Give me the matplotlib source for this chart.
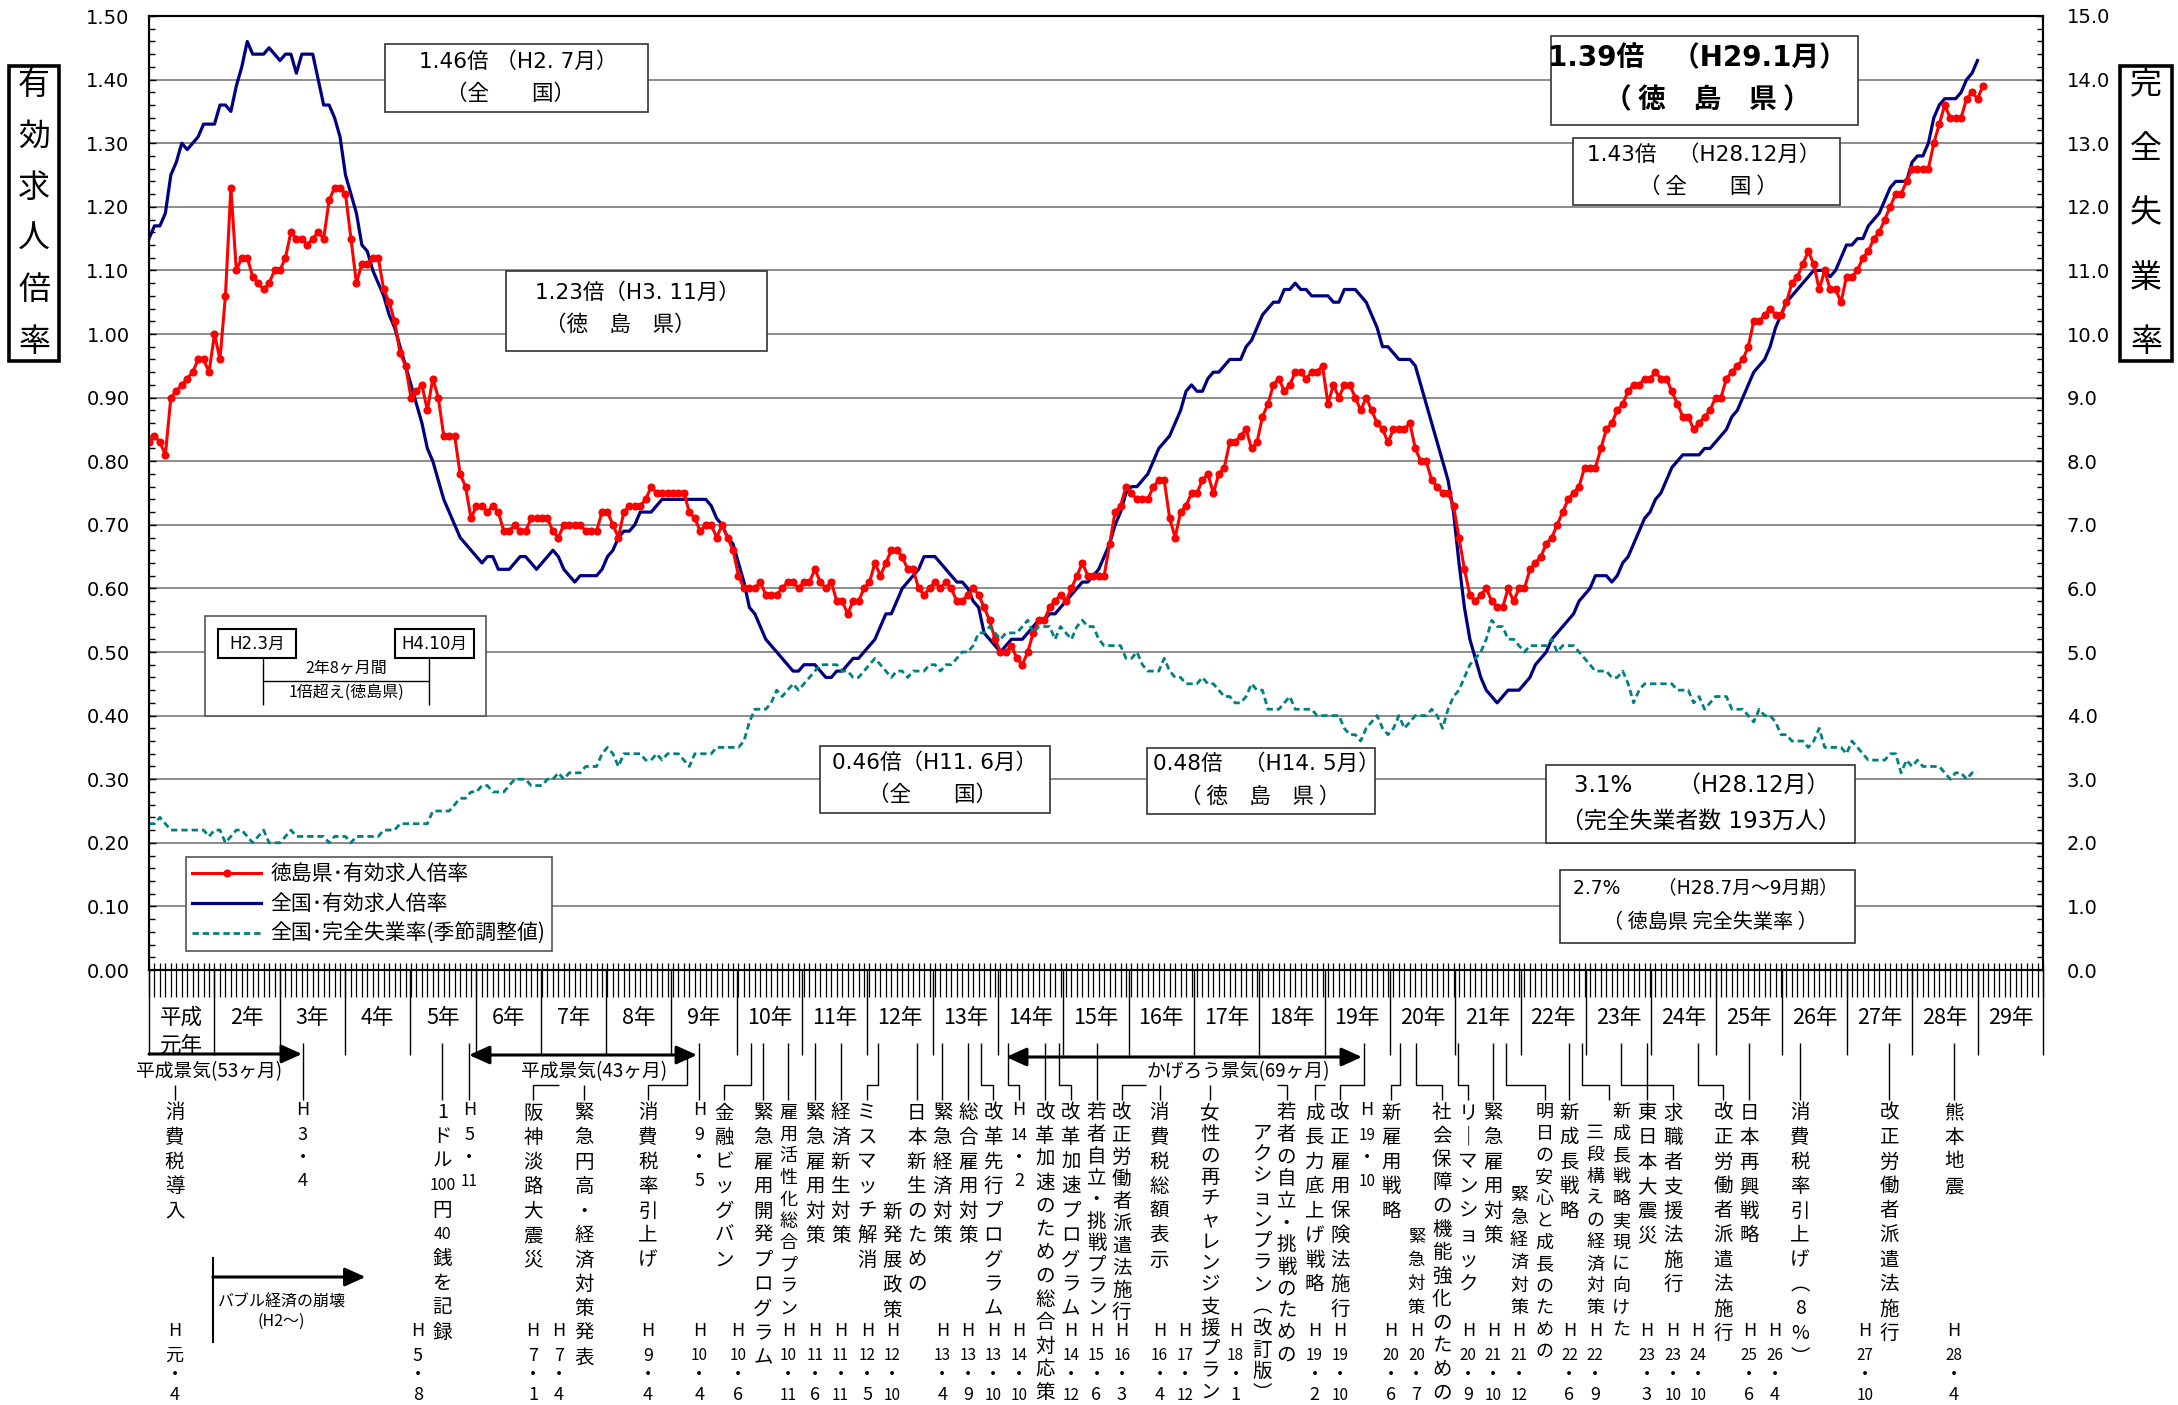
import numpy as np
import matplotlib
matplotlib.use("Agg")
import matplotlib.pyplot as plt
import matplotlib.transforms as mtransforms
from matplotlib.lines import Line2D
from matplotlib.patches import Rectangle, FancyArrowPatch
from matplotlib.collections import LineCollection
from matplotlib.ticker import MultipleLocator, FormatStrFormatter

plt.rcParams['font.family'] = ['Noto Sans CJK JP', 'DejaVu Sans']
LATIN_FIRST = ['DejaVu Sans', 'Noto Sans CJK JP']

# ---------------- data (monthly, H1.1 = index 0) ----------------
tokushima = [
    0.83, 0.84, 0.83, 0.81, 0.90, 0.91, 0.92, 0.93, 0.94, 0.96, 0.96, 0.94,
    1.00, 0.96, 1.06, 1.23, 1.10, 1.12, 1.12, 1.09, 1.08, 1.07, 1.08, 1.10,
    1.10, 1.12, 1.16, 1.15, 1.15, 1.14, 1.15, 1.16, 1.15, 1.21, 1.23, 1.23,
    1.22, 1.15, 1.08, 1.11, 1.11, 1.12, 1.12, 1.07, 1.05, 1.02, 0.97, 0.95,
    0.90, 0.91, 0.92, 0.88, 0.93, 0.90, 0.84, 0.84, 0.84, 0.78, 0.76, 0.71,
    0.73, 0.73, 0.72, 0.73, 0.72, 0.69, 0.69, 0.70, 0.69, 0.69, 0.71, 0.71,
    0.71, 0.71, 0.69, 0.68, 0.70, 0.70, 0.70, 0.70, 0.69, 0.69, 0.69, 0.72,
    0.72, 0.70, 0.68, 0.72, 0.73, 0.73, 0.73, 0.74, 0.76, 0.75, 0.75, 0.75,
    0.75, 0.75, 0.75, 0.72, 0.71, 0.69, 0.70, 0.70, 0.68, 0.70, 0.68, 0.66,
    0.62, 0.60, 0.60, 0.60, 0.61, 0.59, 0.59, 0.59, 0.60, 0.61, 0.61, 0.60,
    0.61, 0.61, 0.63, 0.61, 0.60, 0.61, 0.58, 0.58, 0.56, 0.58, 0.58, 0.60,
    0.61, 0.64, 0.62, 0.64, 0.66, 0.66, 0.65, 0.63, 0.63, 0.60, 0.59, 0.60,
    0.61, 0.60, 0.61, 0.60, 0.58, 0.58, 0.59, 0.60, 0.59, 0.57, 0.55, 0.52,
    0.50, 0.50, 0.51, 0.49, 0.48, 0.50, 0.53, 0.55, 0.55, 0.57, 0.58, 0.59,
    0.58, 0.60, 0.62, 0.64, 0.62, 0.62, 0.62, 0.62, 0.67, 0.72, 0.73, 0.76,
    0.75, 0.74, 0.74, 0.74, 0.76, 0.77, 0.77, 0.71, 0.68, 0.72, 0.73, 0.75,
    0.75, 0.77, 0.78, 0.75, 0.78, 0.79, 0.83, 0.83, 0.84, 0.85, 0.82, 0.83,
    0.87, 0.89, 0.92, 0.93, 0.91, 0.92, 0.94, 0.94, 0.93, 0.94, 0.94, 0.95,
    0.89, 0.92, 0.90, 0.92, 0.92, 0.90, 0.88, 0.90, 0.88, 0.86, 0.85, 0.83,
    0.85, 0.85, 0.85, 0.86, 0.82, 0.80, 0.80, 0.77, 0.76, 0.75, 0.75, 0.73,
    0.68, 0.63, 0.59, 0.58, 0.59, 0.60, 0.58, 0.57, 0.57, 0.60, 0.58, 0.60,
    0.60, 0.63, 0.64, 0.65, 0.67, 0.68, 0.70, 0.72, 0.74, 0.75, 0.76, 0.79,
    0.79, 0.79, 0.82, 0.85, 0.86, 0.88, 0.89, 0.91, 0.92, 0.92, 0.93, 0.93,
    0.94, 0.93, 0.93, 0.91, 0.89, 0.87, 0.87, 0.85, 0.86, 0.87, 0.88, 0.90,
    0.90, 0.93, 0.94, 0.95, 0.96, 0.98, 1.02, 1.02, 1.03, 1.04, 1.03, 1.03,
    1.05, 1.08, 1.09, 1.11, 1.13, 1.11, 1.07, 1.10, 1.07, 1.07, 1.05, 1.09,
    1.09, 1.10, 1.12, 1.13, 1.15, 1.16, 1.18, 1.20, 1.22, 1.22, 1.24, 1.26,
    1.26, 1.26, 1.26, 1.30, 1.33, 1.36, 1.34, 1.34, 1.34, 1.37, 1.38, 1.37,
    1.39,
]

national = [
    1.15, 1.17, 1.17, 1.19, 1.25, 1.27, 1.30, 1.29, 1.30, 1.31, 1.33, 1.33,
    1.33, 1.36, 1.36, 1.35, 1.39, 1.42, 1.46, 1.44, 1.44, 1.44, 1.45, 1.44,
    1.43, 1.44, 1.44, 1.41, 1.44, 1.44, 1.44, 1.40, 1.36, 1.36, 1.34, 1.31,
    1.25, 1.22, 1.19, 1.14, 1.13, 1.10, 1.08, 1.06, 1.03, 1.01, 0.98, 0.95,
    0.92, 0.89, 0.86, 0.82, 0.80, 0.77, 0.74, 0.72, 0.70, 0.68, 0.67, 0.66,
    0.65, 0.64, 0.65, 0.65, 0.63, 0.63, 0.63, 0.64, 0.65, 0.65, 0.64, 0.63,
    0.64, 0.65, 0.66, 0.65, 0.63, 0.62, 0.61, 0.62, 0.62, 0.62, 0.62, 0.63,
    0.65, 0.66, 0.68, 0.69, 0.69, 0.70, 0.72, 0.72, 0.72, 0.73, 0.74, 0.74,
    0.74, 0.74, 0.74, 0.74, 0.74, 0.74, 0.74, 0.73, 0.71, 0.70, 0.68, 0.67,
    0.64, 0.61, 0.57, 0.56, 0.54, 0.52, 0.51, 0.50, 0.49, 0.48, 0.47, 0.47,
    0.48, 0.48, 0.48, 0.47, 0.46, 0.46, 0.47, 0.47, 0.48, 0.49, 0.49, 0.50,
    0.51, 0.52, 0.54, 0.56, 0.56, 0.58, 0.60, 0.61, 0.62, 0.63, 0.65, 0.65,
    0.65, 0.64, 0.63, 0.62, 0.61, 0.61, 0.60, 0.58, 0.57, 0.53, 0.52, 0.51,
    0.50, 0.51, 0.52, 0.52, 0.52, 0.53, 0.54, 0.55, 0.55, 0.56, 0.56, 0.57,
    0.58, 0.59, 0.60, 0.61, 0.61, 0.62, 0.63, 0.65, 0.67, 0.70, 0.72, 0.75,
    0.76, 0.76, 0.77, 0.78, 0.80, 0.82, 0.83, 0.84, 0.86, 0.88, 0.91, 0.92,
    0.91, 0.91, 0.93, 0.94, 0.94, 0.95, 0.96, 0.96, 0.96, 0.98, 0.99, 1.01,
    1.03, 1.04, 1.05, 1.05, 1.07, 1.07, 1.08, 1.07, 1.07, 1.06, 1.06, 1.06,
    1.06, 1.05, 1.05, 1.07, 1.07, 1.07, 1.06, 1.05, 1.03, 1.01, 0.98, 0.98,
    0.97, 0.96, 0.96, 0.96, 0.95, 0.92, 0.89, 0.86, 0.83, 0.80, 0.77, 0.72,
    0.64, 0.57, 0.52, 0.49, 0.46, 0.44, 0.43, 0.42, 0.43, 0.44, 0.44, 0.44,
    0.45, 0.46, 0.48, 0.49, 0.50, 0.52, 0.53, 0.54, 0.55, 0.56, 0.58, 0.59,
    0.60, 0.62, 0.62, 0.62, 0.61, 0.62, 0.64, 0.65, 0.67, 0.69, 0.71, 0.72,
    0.74, 0.75, 0.77, 0.79, 0.80, 0.81, 0.81, 0.81, 0.81, 0.82, 0.82, 0.83,
    0.84, 0.85, 0.87, 0.88, 0.90, 0.92, 0.94, 0.95, 0.96, 0.98, 1.01, 1.03,
    1.05, 1.06, 1.07, 1.08, 1.09, 1.10, 1.10, 1.10, 1.09, 1.10, 1.12, 1.14,
    1.14, 1.15, 1.15, 1.17, 1.18, 1.19, 1.21, 1.23, 1.24, 1.24, 1.24, 1.27,
    1.28, 1.28, 1.30, 1.34, 1.36, 1.37, 1.37, 1.37, 1.38, 1.40, 1.41, 1.43,
]

unemployment = [
    2.3, 2.3, 2.4, 2.3, 2.2, 2.2, 2.2, 2.2, 2.2, 2.2, 2.2, 2.1,
    2.2, 2.2, 2.0, 2.1, 2.2, 2.2, 2.1, 2.0, 2.1, 2.2, 2.0, 2.0,
    2.0, 2.1, 2.2, 2.1, 2.1, 2.1, 2.1, 2.1, 2.1, 2.0, 2.1, 2.1,
    2.1, 2.0, 2.1, 2.1, 2.1, 2.1, 2.1, 2.2, 2.2, 2.2, 2.3, 2.3,
    2.3, 2.3, 2.3, 2.3, 2.5, 2.5, 2.5, 2.5, 2.6, 2.7, 2.7, 2.8,
    2.8, 2.9, 2.9, 2.8, 2.8, 2.8, 2.9, 3.0, 3.0, 3.0, 2.9, 2.9,
    2.9, 3.0, 3.0, 3.1, 3.0, 3.1, 3.1, 3.1, 3.2, 3.2, 3.2, 3.4,
    3.5, 3.4, 3.2, 3.4, 3.4, 3.4, 3.4, 3.3, 3.3, 3.4, 3.3, 3.4,
    3.4, 3.4, 3.3, 3.2, 3.4, 3.4, 3.4, 3.4, 3.5, 3.5, 3.5, 3.5,
    3.5, 3.6, 3.9, 4.1, 4.1, 4.1, 4.2, 4.4, 4.3, 4.4, 4.5, 4.4,
    4.5, 4.6, 4.7, 4.8, 4.8, 4.8, 4.8, 4.7, 4.7, 4.6, 4.6, 4.7,
    4.8, 4.9, 4.8, 4.7, 4.6, 4.7, 4.7, 4.6, 4.7, 4.7, 4.7, 4.8,
    4.8, 4.7, 4.8, 4.8, 4.9, 5.0, 5.0, 5.1, 5.3, 5.3, 5.4, 5.3,
    5.2, 5.3, 5.3, 5.3, 5.4, 5.5, 5.3, 5.4, 5.4, 5.4, 5.2, 5.4,
    5.3, 5.2, 5.4, 5.5, 5.4, 5.4, 5.2, 5.1, 5.1, 5.1, 5.1, 4.9,
    4.9, 5.0, 4.8, 4.7, 4.7, 4.7, 4.9, 4.7, 4.6, 4.6, 4.5, 4.5,
    4.5, 4.6, 4.5, 4.5, 4.4, 4.3, 4.3, 4.2, 4.2, 4.3, 4.5, 4.4,
    4.4, 4.1, 4.1, 4.1, 4.2, 4.3, 4.1, 4.1, 4.1, 4.1, 4.0, 4.0,
    4.0, 4.0, 4.0, 3.8, 3.7, 3.7, 3.6, 3.8, 3.9, 4.0, 3.8, 3.7,
    3.8, 4.0, 3.8, 3.9, 4.0, 4.0, 4.0, 4.1, 4.0, 3.8, 4.1, 4.3,
    4.4, 4.6, 4.8, 4.9, 5.0, 5.2, 5.5, 5.4, 5.4, 5.2, 5.2, 5.1,
    5.0, 5.1, 5.1, 5.1, 5.1, 5.2, 5.0, 5.1, 5.1, 5.1, 5.0, 4.9,
    4.8, 4.7, 4.7, 4.7, 4.6, 4.6, 4.7, 4.5, 4.2, 4.4, 4.5, 4.5,
    4.5, 4.5, 4.5, 4.5, 4.4, 4.4, 4.4, 4.2, 4.3, 4.1, 4.2, 4.3,
    4.3, 4.3, 4.1, 4.1, 4.1, 4.0, 3.9, 4.1, 4.0, 4.0, 3.9, 3.7,
    3.7, 3.6, 3.6, 3.6, 3.5, 3.6, 3.8, 3.5, 3.5, 3.5, 3.5, 3.4,
    3.6, 3.5, 3.4, 3.3, 3.3, 3.3, 3.3, 3.4, 3.4, 3.1, 3.3, 3.2,
    3.3, 3.2, 3.2, 3.2, 3.2, 3.1, 3.0, 3.1, 3.1, 3.0, 3.1, 3.1,
]

n_categories = 348           # H1.1 .. H29.12
n_years = 29
legend_labels = ['徳島県･有効求人倍率', '全国･有効求人倍率', '全国･完全失業率(季節調整値)']

# ---------------- figure ----------------
W, H = 2178, 1405
fig = plt.figure(figsize=(W / 100, H / 100), dpi=100)
fig.patch.set_facecolor('white')
T = mtransforms.Affine2D().scale(1.0 / W, -1.0 / H).translate(0, 1) + fig.transFigure

AX_L, AX_R, AX_T, AX_B = 149, 2043, 16, 970
ax = fig.add_axes([AX_L / W, 1 - AX_B / H, (AX_R - AX_L) / W, (AX_B - AX_T) / H])
ax.set_xlim(0, n_categories - 1)
ax.set_ylim(0, 1.5)
ax.set_yticks(np.arange(0, 1.501, 0.1))
ax.yaxis.set_major_formatter(FormatStrFormatter('%.2f'))
ax.yaxis.set_minor_locator(MultipleLocator(0.02))
ax.tick_params(axis='y', which='major', direction='in', length=5, width=1, labelsize=14, pad=14)
ax.tick_params(axis='y', which='minor', direction='in', length=4, width=1)
ax.set_xticks([])
ax.yaxis.grid(True, color='#8c8c8c', lw=1.4)
ax.set_axisbelow(True)
for s in ax.spines.values():
    s.set_linewidth(1.5)
    s.set_color('black')

l_blue, = ax.plot(np.arange(len(national)), national, color='#000080', lw=2.3, zorder=3)
l_red, = ax.plot(np.arange(len(tokushima)), tokushima, color='#ff0000', lw=2.2,
                 marker='o', ms=4.8, mec='#ff0000', mfc='#ff0000', zorder=4)

ax2 = ax.twinx()
ax2.set_ylim(0, 15)
ax2.set_yticks(np.arange(0, 15.01, 1))
ax2.yaxis.set_major_formatter(FormatStrFormatter('%.1f'))
ax2.yaxis.set_minor_locator(MultipleLocator(0.2))
ax2.tick_params(axis='y', which='major', direction='in', length=5, width=1, labelsize=14, pad=17)
ax2.tick_params(axis='y', which='minor', direction='in', length=4, width=1)
for s in ax2.spines.values():
    s.set_linewidth(1.5)
l_teal, = ax2.plot(np.arange(len(unemployment)), unemployment, color='#008080', lw=2.0,
                   ls=(0, (2.3, 1.4)))

for lab in ax.get_yticklabels() + ax2.get_yticklabels():
    lab.set_fontfamily(LATIN_FIRST)

# ---------------- helpers ----------------
def box(x0, y0, x1, y1, lw=1.2, ec='#333333'):
    fig.add_artist(Rectangle((x0, y0), x1 - x0, y1 - y0, transform=T, fc='white', ec=ec, lw=lw))

def txt(x, y, s, size=13.5, ha='center', weight='normal', family=None):
    kw = {}
    if family is not None:
        kw['family'] = family
    fig.text(x, y, s, transform=T, ha=ha, va='center', fontsize=size, fontweight=weight, **kw)

def ltxt(x, y, s, size=15.5, weight='normal'):
    txt(x, y, s, size=size, weight=weight, family=LATIN_FIRST)

def poly(pts, lw=1.0):
    xs, ys = zip(*pts)
    fig.add_artist(Line2D(xs, ys, transform=T, color='black', lw=lw, solid_capstyle='butt'))

def vtext(x, y0, cells, pitch=24.5, size=14):
    if isinstance(cells, str):
        cells = list(cells)
    for k, c in enumerate(cells):
        fs = size if len(c) == 1 else size * 0.82
        fig.text(x, y0 + k * pitch, c, transform=T, ha='center', va='center', fontsize=fs)

def hdate(x, yr, mo, upper=False):
    ys = (1110, 1135, 1158, 1181) if upper else (1331, 1356, 1375, 1395)
    for y, c in zip(ys, ['H', yr, '・', mo]):
        fs = 13 if len(c) == 1 else 11
        fig.text(x, y, c, transform=T, ha='center', va='center', fontsize=fs)

def arrow(x0, x1, y, style):
    fig.add_artist(FancyArrowPatch((x0, y), (x1, y), transform=T,
                                   arrowstyle=style + ',head_length=0.62,head_width=0.28',
                                   mutation_scale=20, lw=2.2, color='black',
                                   shrinkA=0, shrinkB=0))

YT, YB, YE = 1043, 1085, 1100
def drop(x):
    poly([(x, YT), (x, YE)])
def bend(x1, x2):
    poly([(x1, YT), (x1, YB), (x2, YB), (x2, YE)])

# ---------------- axis title boxes ----------------
fig.add_artist(Rectangle((9, 66), 50, 295, transform=T, fc='white', ec='black', lw=2.6))
for k, c in enumerate('有効求人倍率'):
    txt(34, 85 + k * 51.3, c, size=23)
fig.add_artist(Rectangle((2120, 66), 52, 295, transform=T, fc='white', ec='black', lw=2.6))
for k, c in enumerate('完全失業率'):
    txt(2146, 85 + k * 64.2, c, size=23)

# ---------------- month ticks / year boxes ----------------
TX = mtransforms.blended_transform_factory(ax.transData, T)
segs = [[(i, 963), (i, 997)] for i in range(n_categories)]
fig.add_artist(LineCollection(segs, transform=TX, colors='black', linewidths=0.9))

YW = (AX_R - AX_L) / n_years
for k in range(n_years + 1):
    poly([(AX_L + k * YW, 970), (AX_L + k * YW, 1055)])
for k in range(n_years):
    xc = AX_L + (k + 0.5) * YW
    if k == 0:
        txt(xc, 1018, '平成', size=15.5)
        txt(xc, 1046, '元年', size=15.5)
    else:
        txt(xc, 1018, f'{k + 1}年', size=15.5)

# ---------------- boom arrows ----------------
arrow(AX_L, 302, 1054, '-|>')
txt(209.5, 1072, '平成景気(53ヶ月)', size=13.5)
arrow(469, 697, 1055, '<|-|>')
txt(593.6, 1072, '平成景気(43ヶ月)', size=13.5)
arrow(1006, 1362, 1057, '<|-|>')
txt(1238, 1072, 'かげろう景気(69ヶ月)', size=13.5)

# bubble
poly([(212.8, 1257), (212.8, 1343)], lw=1.5)
arrow(212.8, 365.5, 1277, '-|>')
txt(281.7, 1302, 'バブル経済の崩壊', size=11.5)
txt(281.7, 1321, '(H2〜)', size=11.5)

# ---------------- events ----------------
vtext(174.6, 1113, '消費税導入'); poly([(174.6, YB), (174.6, YE)]); hdate(174.6, '元', '4')
drop(302.6); hdate(302.6, '3', '4', upper=True)
vtext(442.3, 1112, ['1', 'ド', 'ル', '100', '円', '40', '銭', 'を', '記', '録']); drop(442.3); hdate(418, '5', '8')
drop(469.3); hdate(469.3, '5', '11', upper=True)
vtext(533, 1113, '阪神淡路大震災'); poly([(558.7, YB), (533, YB), (533, YE)]); hdate(533, '7', '1')
vtext(584.3, 1113, '緊急円高・経済対策発表'); poly([(584.3, YB), (584.3, YE)]); hdate(558.7, '7', '4')
vtext(648, 1113, '消費税率引上げ'); poly([(686.7, 1055), (686.7, YB), (648, YB), (648, YE)]); hdate(648, '9', '4')
drop(699.3); hdate(699.3, '9', '5', upper=True)
vtext(724.2, 1113, '金融ビッグバン'); bend(750.9, 724.2); hdate(699.3, '10', '4')
vtext(763, 1113, '緊急雇用開発プログラム'); drop(763); hdate(737.8, '10', '6')
vtext(788.2, 1113, '雇用活性化総合プラン', pitch=21.7, size=13); drop(788.2); hdate(788.2, '10', '11')
vtext(814.9, 1113, '緊急雇用対策'); drop(814.9); hdate(814.9, '11', '6')
vtext(840.6, 1113, '経済新生対策'); drop(840.6); hdate(840.6, '11', '11')
vtext(867.2, 1113, 'ミスマッチ解消'); bend(878.4, 867.2); hdate(867.2, '12', '5')
vtext(916.7, 1113, '日本新生のための'); vtext(892.4, 1212, '新発展政策'); drop(916.7); hdate(892.4, '12', '10')
vtext(942.4, 1113, '緊急経済対策'); drop(942.4); hdate(942.4, '13', '4')
vtext(968.1, 1113, '総合雇用対策'); drop(968.1); hdate(968.1, '13', '9')
vtext(993.3, 1113, '改革先行プログラム'); bend(981.1, 993.3); hdate(993.3, '13', '10')
bend(1007.8, 1019); hdate(1019, '14', '2', upper=True)
vtext(1045.1, 1113, '改革加速のための総合対応策', pitch=23.3); drop(1045.1); hdate(1019, '14', '10')
vtext(1070.8, 1113, '改革加速プログラム'); bend(1058.7, 1070.8); hdate(1070.8, '14', '12')
vtext(1096.5, 1113, '若者自立・挑戦プラン', pitch=21.7); drop(1096.5); hdate(1096.5, '15', '6')
vtext(1121.7, 1113, '改正労働者派遣法施行', pitch=22.2); poly([(1146, YB), (1121.7, YB), (1121.7, YE)]); hdate(1121.7, '16', '3')
vtext(1159.5, 1113, '消費税総額表示'); poly([(1159.5, YB), (1159.5, YE)]); hdate(1159.5, '16', '4')
vtext(1210, 1113, '女性の再チャレンジ支援プラン', pitch=21.5); poly([(1210, YB), (1210, YE)]); hdate(1184.7, '17', '12')
vtext(1286.5, 1113, '若者の自立・挑戦のための', pitch=22)
vtext(1262.3, 1133, list('アクションプラン') + ['︵', '改', '訂', '版', '︶'], pitch=21.7)
poly([(1276.7, YB), (1286.5, YB), (1286.5, YE)]); hdate(1235.6, '18', '1')
vtext(1314.6, 1113, '成長力底上げ戦略'); poly([(1325.3, YB), (1314.6, YB), (1314.6, YE)]); hdate(1314.6, '19', '2')
vtext(1339.8, 1113, '改正雇用保険法施行'); bend(1364, 1339.8); hdate(1339.8, '19', '10')
hdate(1367, '19', '10', upper=True)
vtext(1390.8, 1113, '新雇用戦略'); bend(1400.4, 1390.8); hdate(1390.8, '20', '6')
vtext(1441.7, 1113, '社会保障の機能強化のための', pitch=23.3)
vtext(1416.4, 1237, '緊急対策', pitch=23.5, size=12.5); bend(1416.4, 1441.7); hdate(1416.4, '20', '7')
vtext(1468.2, 1113, ['リ', '｜', 'マ', 'ン', 'シ', 'ョ', 'ッ', 'ク']); bend(1457.9, 1468.2); hdate(1468.2, '20', '9')
vtext(1493.2, 1113, '緊急雇用対策'); drop(1493.2); hdate(1493.2, '21', '10')
vtext(1544.5, 1112, '明日の安心と成長のための', pitch=21.8, size=13)
vtext(1519, 1195, '緊急経済対策', pitch=22.7, size=13); bend(1505.9, 1544.5); hdate(1519, '21', '12')
vtext(1569.4, 1113, '新成長戦略'); drop(1569.4); hdate(1569.4, '22', '6')
vtext(1621.2, 1112, '新成長戦略実現に向けた', pitch=21.8, size=13)
vtext(1595.3, 1133, '三段構えの経済対策', pitch=21.9, size=13); bend(1582.1, 1608.5); hdate(1595.3, '22', '9')
vtext(1647, 1113, '東日本大震災'); drop(1647); hdate(1647, '23', '3')
vtext(1673, 1113, '求職者支援法施行'); bend(1621.2, 1673); hdate(1673, '23', '10')
vtext(1723.3, 1113, '改正労働者派遣法施行'); bend(1697.9, 1723.3); hdate(1697.9, '24', '10')
vtext(1749.2, 1113, '日本再興戦略'); drop(1749.2); hdate(1749.2, '25', '6')
vtext(1800, 1113, list('消費税率引上げ') + ['︵', '8', '%', '︶']); drop(1800); hdate(1775, '26', '4')
vtext(1889.4, 1113, '改正労働者派遣法施行'); drop(1889.4); hdate(1865, '27', '10')
vtext(1953.9, 1113, '熊本地震'); drop(1953.9); hdate(1953.9, '28', '4')

# ---------------- value boxes ----------------
box(385, 44, 648, 112)
ltxt(518, 62, '1.46倍 （H2. 7月）')
txt(510, 94, '（全　　国）', size=15.5)

box(506, 271, 767, 351)
ltxt(637, 293, '1.23倍（H3. 11月）')
txt(620, 325, '（徳　島　県）', size=15.5)

box(1551, 36, 1858, 125)
ltxt(1697, 58, '1.39倍　（H29.1月）', size=20, weight='bold')
txt(1707, 100, '（ 徳　島　県 ）', size=20, weight='bold')

box(1573, 138, 1840, 205)
ltxt(1704, 155, '1.43倍　（H28.12月）')
txt(1708, 187, '（ 全　　国 ）', size=15.5)

box(820, 746, 1050, 813)
ltxt(935, 763, '0.46倍（H11. 6月）')
txt(932, 795, '（全　　国）', size=15.5)

box(1147, 748, 1375, 814)
ltxt(1266, 764, '0.48倍　（H14. 5月）')
txt(1260, 797, '（ 徳　島　県 ）', size=15.5)

box(1546, 765, 1855, 843)
ltxt(1702, 785, '3.1%　　（H28.12月）', size=16.5)
ltxt(1701, 822, '（完全失業者数 193万人）', size=16.5)

box(1560, 870, 1855, 943)
ltxt(1705, 888, '2.7%　　（H28.7月〜9月期）', size=13.5)
txt(1710, 922, '（ 徳島県 完全失業率 ）', size=14.5)

# H2.3 - H4.10 diagram
box(205, 616, 486, 716, ec='#555555')
box(218, 629, 296, 658, lw=1.5, ec='black')
ltxt(257, 643.5, 'H2.3月', size=12)
box(395, 629, 474, 658, lw=1.5, ec='black')
ltxt(434, 643.5, 'H4.10月', size=12)
poly([(263, 658), (263, 705)])
poly([(429, 658), (429, 705)])
poly([(263, 681), (429, 681)])
txt(346, 668, '2年8ヶ月間', size=11.5)
txt(346, 692, '1倍超え(徳島県)', size=11.5)

# ---------------- legend ----------------
leg = fig.legend([l_red, l_blue, l_teal], legend_labels, loc='upper left',
                 bbox_to_anchor=(186 / W, 1 - 857 / H), bbox_transform=fig.transFigure,
                 frameon=True, fancybox=False, edgecolor='#555555', framealpha=1,
                 fontsize=15, handlelength=3.3, handletextpad=0.45,
                 labelspacing=0.38, borderpad=0.3, borderaxespad=0)
leg.get_frame().set_linewidth(1.2)

fig.savefig('out.png', dpi=100)
